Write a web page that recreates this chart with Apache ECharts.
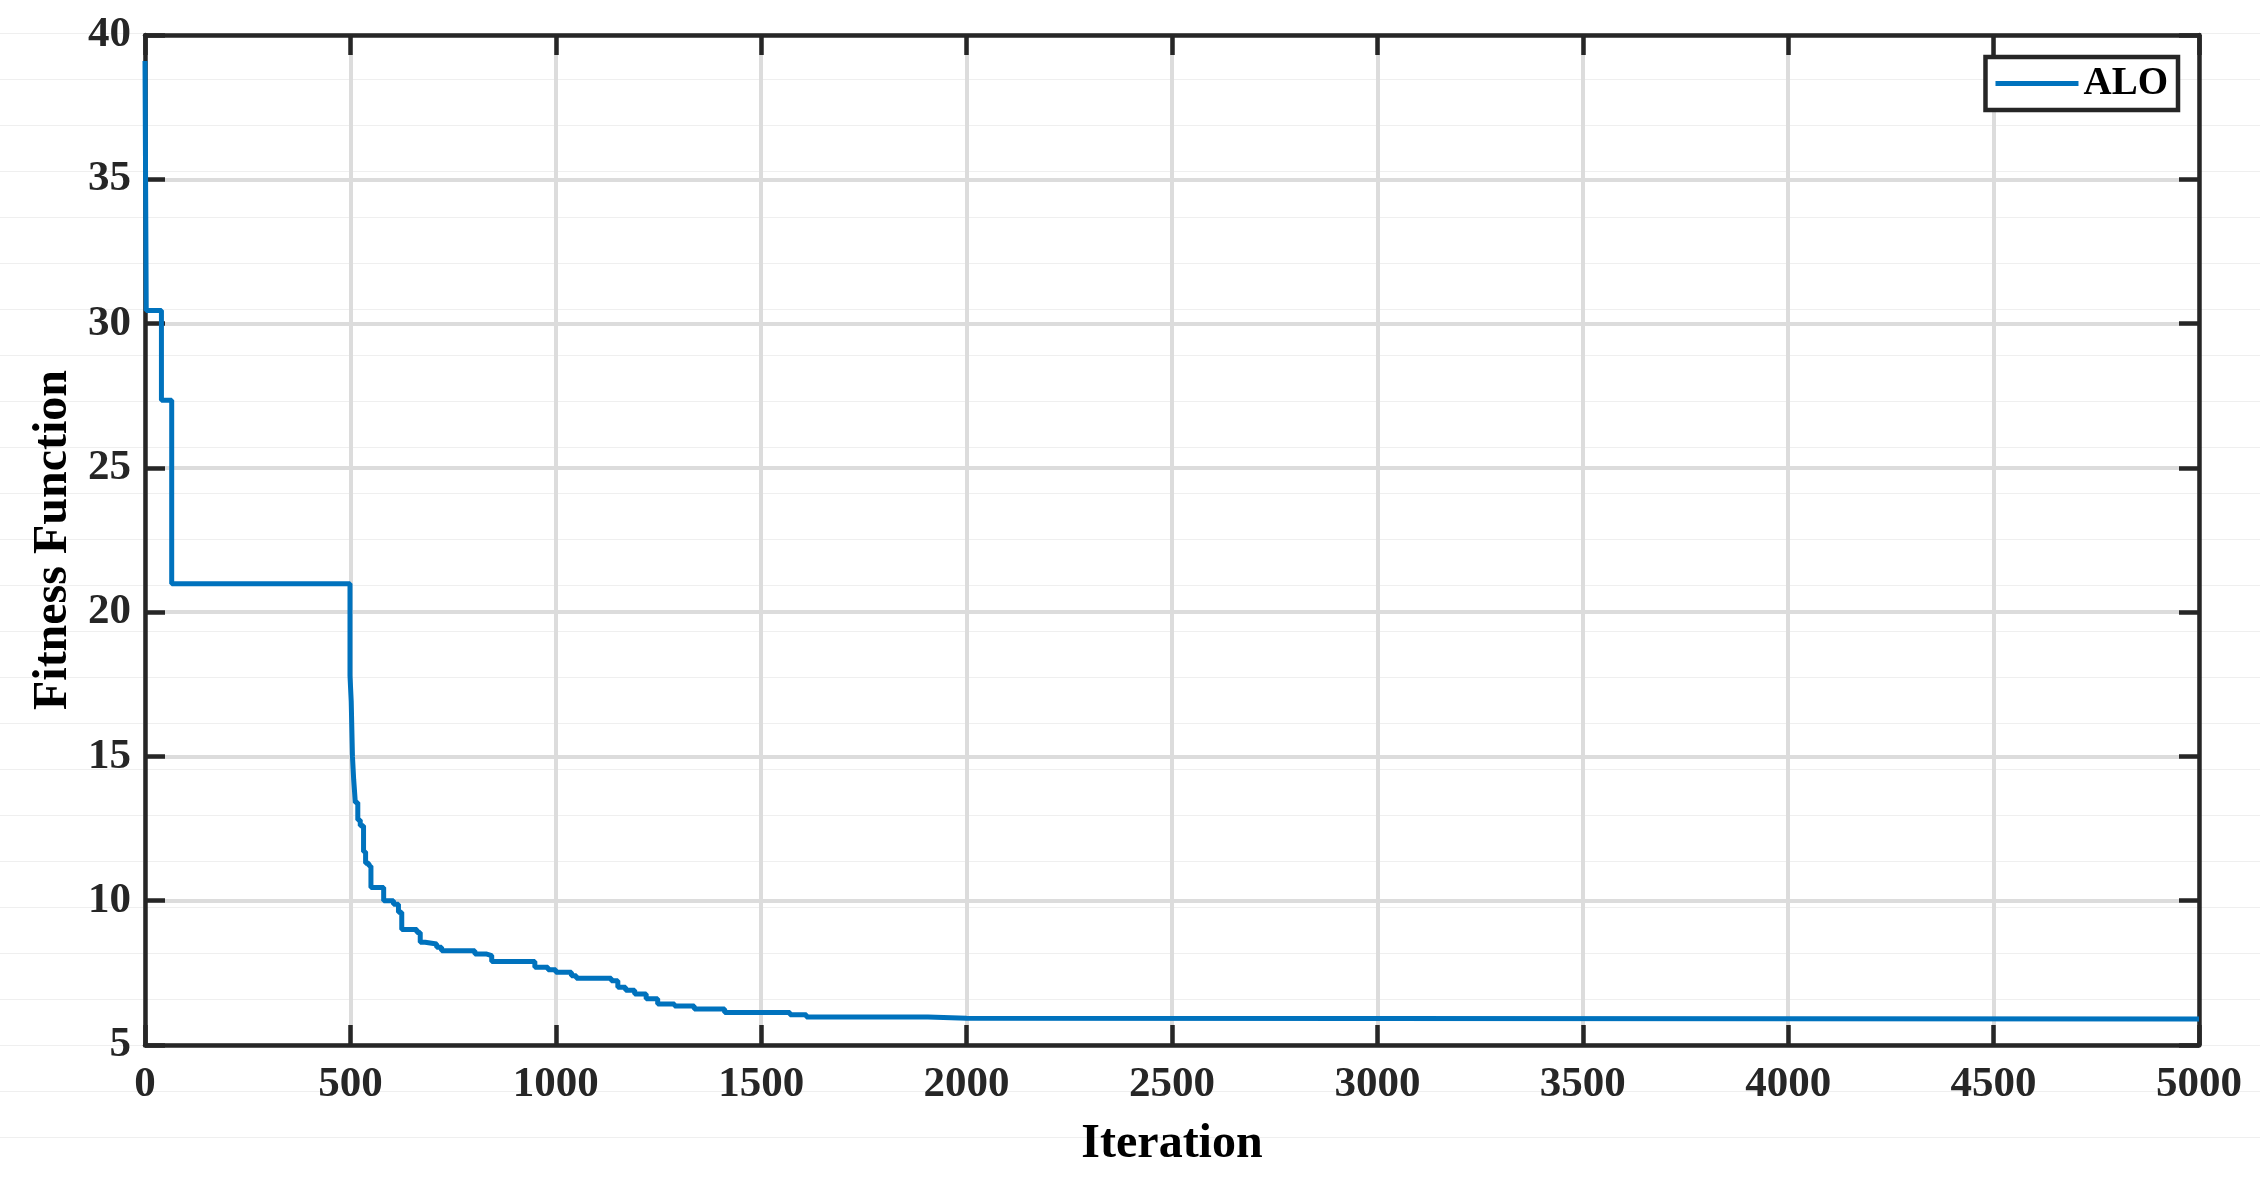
<!DOCTYPE html>
<html>
<head>
<meta charset="utf-8">
<title>ALO convergence</title>
<script src="https://cdn.jsdelivr.net/npm/echarts@6/dist/echarts.min.js"></script>
<style>
	html, body {
		margin: 0;
		padding: 0;
		background-color: #fff;
		/* faint scan lines running across the whole figure */
		background-image: repeating-linear-gradient(180deg, transparent 0px, transparent 33px, #efefef 33px, #efefef 34px, transparent 34px, transparent 46px);
	}
	#chart {
		width: 2260px;
		height: 1180px;
	}
</style>
</head>
<body>
<div id="chart"></div>
<script>
	// iteration where each new best value starts
	var iterations = [0, 3, 40, 65, 499, 502, 505, 508, 512, 518, 524, 532, 537, 545, 550,
		581, 605, 617, 625, 662, 670, 682, 710, 722, 803, 832, 844, 949, 981, 1000,
		1038, 1050, 1135, 1151, 1170, 1192, 1220, 1248, 1289, 1337, 1411, 1570, 1610,
		1906, 2000, 5000];
	// best fitness found so far
	var fitness = [39.1, 30.45, 27.34, 20.98, 17.8, 16.9, 15.0, 14.2, 13.4, 12.8, 12.6, 11.7, 11.3, 11.2, 10.46,
		10.0, 9.88, 9.6, 9.0, 8.9, 8.56, 8.5, 8.39, 8.27, 8.15, 8.1, 7.89, 7.69, 7.61, 7.52,
		7.4, 7.31, 7.23, 7.0, 6.9, 6.77, 6.6, 6.42, 6.35, 6.25, 6.13, 6.05, 5.97,
		5.93, 5.9, 5.9];
	var legendData = ['ALO'];

	var font = 'Liberation Serif, Times New Roman, serif';
	var axisColor = '#262626';

	function labelStyle(margin) {
		return {
			show: true,
			showMinLabel: true,
			showMaxLabel: true,
			margin: margin,
			color: axisColor,
			fontFamily: font,
			fontWeight: 'bold',
			fontSize: 43,
			formatter: function (v) { return String(v); }
		};
	}

	// box axes: every side gets a line and inward ticks, only bottom/left get labels
	function makeAxis(opt) {
		return Object.assign({
			type: 'value',
			axisLine: {
				show: true,
				onZero: false,
				lineStyle: { color: axisColor, width: 4.5 }
			},
			axisTick: {
				show: true,
				inside: true,
				length: 20,
				lineStyle: { color: axisColor, width: 4.5 }
			},
			axisLabel: { show: false },
			splitLine: { show: false },
			nameLocation: 'middle',
			nameTextStyle: {
				color: '#000',
				fontFamily: font,
				fontWeight: 'bold',
				fontSize: 48
			}
		}, opt);
	}

	var gridLine = {
		show: true,
		lineStyle: { color: '#dcdcdc', width: 4 }
	};

	var seriesData = iterations.map(function (x, i) {
		return [x, fitness[i]];
	});

	var myChart = echarts.init(document.getElementById('chart'));
	var option = {
		backgroundColor: 'transparent',
		animation: false,
		grid: {
			left: 145,
			right: 61,
			top: 35,
			bottom: 135
		},
		legend: {
			data: [{ name: legendData[0], icon: 'rect' }],
			right: 82,
			top: 57,
			backgroundColor: '#fff',
			borderColor: axisColor,
			borderWidth: 4.5,
			borderRadius: 0,
			padding: [7, 10, 7, 10],
			itemWidth: 83,
			itemHeight: 5,
			textStyle: {
				color: '#000',
				fontFamily: font,
				fontWeight: 'bold',
				fontSize: 39
			}
		},
		xAxis: [
			makeAxis({
				position: 'bottom',
				min: 0,
				max: 5000,
				interval: 500,
				name: 'Iteration',
				nameGap: 76,
				axisLabel: labelStyle(18),
				splitLine: gridLine
			}),
			makeAxis({ position: 'top', min: 0, max: 5000, interval: 500 })
		],
		yAxis: [
			makeAxis({
				position: 'left',
				min: 5,
				max: 40,
				interval: 5,
				name: 'Fitness Function',
				nameGap: 60,
				axisLabel: labelStyle(14),
				splitLine: gridLine
			}),
			makeAxis({ position: 'right', min: 5, max: 40, interval: 5 })
		],
		series: [{
			name: 'ALO',
			type: 'line',
			step: 'end',
			symbol: 'none',
			xAxisIndex: 0,
			yAxisIndex: 0,
			data: seriesData,
			lineStyle: { color: '#0072BD', width: 5 },
			itemStyle: { color: '#0072BD' }
		}]
	};
	myChart.setOption(option);
	window.addEventListener('resize', myChart.resize);
</script>
</body>
</html>
